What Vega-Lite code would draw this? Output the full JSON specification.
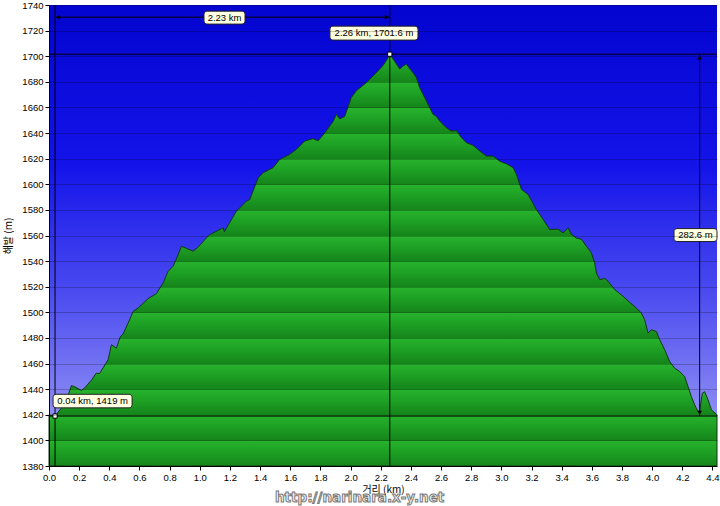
{
  "$schema": "https://vega.github.io/schema/vega-lite/v6.json",
  "width": 668,
  "height": 461,
  "autosize": {"type": "none"},
  "padding": {"left": 49, "top": 5, "right": 3, "bottom": 40},
  "background": "white",
  "config": {
    "view": {"stroke": null},
    "font": "Liberation Sans",
    "axis": {"labelFont": "Liberation Sans", "labelFontSize": 9.5, "labelColor": "black", "domainColor": "black", "tickColor": "black", "tickSize": 4, "labelPadding": 2, "labelOverlap": false}
  },
  "datasets": {
    "bg": [{"x0": 0, "x1": 4.43, "y0": 1380, "y1": 1740}],
    "profile": [
      {"km": 0.0, "m": 1420}, {"km": 0.04, "m": 1419}, {"km": 0.08, "m": 1425}, {"km": 0.12, "m": 1433},
      {"km": 0.149, "m": 1442.8}, {"km": 0.168, "m": 1442}, {"km": 0.215, "m": 1439}, {"km": 0.237, "m": 1441},
      {"km": 0.281, "m": 1447}, {"km": 0.314, "m": 1452.6}, {"km": 0.334, "m": 1452}, {"km": 0.359, "m": 1456.7},
      {"km": 0.392, "m": 1463}, {"km": 0.414, "m": 1474.7}, {"km": 0.447, "m": 1472}, {"km": 0.473, "m": 1481},
      {"km": 0.491, "m": 1483}, {"km": 0.525, "m": 1491.7}, {"km": 0.558, "m": 1500.7}, {"km": 0.591, "m": 1503.4},
      {"km": 0.624, "m": 1507}, {"km": 0.657, "m": 1510.7}, {"km": 0.712, "m": 1514.6}, {"km": 0.757, "m": 1523},
      {"km": 0.79, "m": 1532}, {"km": 0.823, "m": 1536}, {"km": 0.856, "m": 1545}, {"km": 0.878, "m": 1551.6},
      {"km": 0.911, "m": 1550}, {"km": 0.956, "m": 1547.7}, {"km": 0.989, "m": 1551}, {"km": 1.055, "m": 1559.5},
      {"km": 1.066, "m": 1560.7}, {"km": 1.155, "m": 1566}, {"km": 1.163, "m": 1563}, {"km": 1.243, "m": 1579},
      {"km": 1.309, "m": 1586.8}, {"km": 1.331, "m": 1588}, {"km": 1.387, "m": 1605}, {"km": 1.42, "m": 1609},
      {"km": 1.486, "m": 1613}, {"km": 1.53, "m": 1619.4}, {"km": 1.596, "m": 1623.3}, {"km": 1.641, "m": 1627.3},
      {"km": 1.696, "m": 1633.8}, {"km": 1.751, "m": 1635.6}, {"km": 1.785, "m": 1634}, {"km": 1.828, "m": 1640},
      {"km": 1.884, "m": 1649}, {"km": 1.906, "m": 1654.6}, {"km": 1.928, "m": 1651}, {"km": 1.961, "m": 1653},
      {"km": 2.005, "m": 1667.7}, {"km": 2.038, "m": 1673}, {"km": 2.105, "m": 1679.4}, {"km": 2.149, "m": 1684.6},
      {"km": 2.193, "m": 1689.9}, {"km": 2.216, "m": 1693}, {"km": 2.237, "m": 1696.4}, {"km": 2.26, "m": 1701.6},
      {"km": 2.292, "m": 1696}, {"km": 2.326, "m": 1690}, {"km": 2.348, "m": 1692.4}, {"km": 2.37, "m": 1693.8},
      {"km": 2.414, "m": 1687}, {"km": 2.436, "m": 1683.4}, {"km": 2.458, "m": 1675.5}, {"km": 2.503, "m": 1665},
      {"km": 2.547, "m": 1654.6}, {"km": 2.569, "m": 1653}, {"km": 2.591, "m": 1649.4}, {"km": 2.635, "m": 1644.2},
      {"km": 2.668, "m": 1641.6}, {"km": 2.702, "m": 1642}, {"km": 2.735, "m": 1636.4}, {"km": 2.768, "m": 1632.5},
      {"km": 2.812, "m": 1630.4}, {"km": 2.856, "m": 1626}, {"km": 2.901, "m": 1622}, {"km": 2.945, "m": 1622},
      {"km": 2.989, "m": 1618}, {"km": 3.033, "m": 1616}, {"km": 3.078, "m": 1613}, {"km": 3.1, "m": 1607.7},
      {"km": 3.133, "m": 1596}, {"km": 3.177, "m": 1592}, {"km": 3.232, "m": 1580.3}, {"km": 3.277, "m": 1572.5},
      {"km": 3.32, "m": 1564.7}, {"km": 3.376, "m": 1565}, {"km": 3.409, "m": 1562}, {"km": 3.442, "m": 1566},
      {"km": 3.464, "m": 1561}, {"km": 3.497, "m": 1558}, {"km": 3.531, "m": 1557}, {"km": 3.564, "m": 1551.6},
      {"km": 3.597, "m": 1546.4}, {"km": 3.619, "m": 1538.6}, {"km": 3.63, "m": 1530.8}, {"km": 3.652, "m": 1525.5},
      {"km": 3.685, "m": 1526.5}, {"km": 3.708, "m": 1524.2}, {"km": 3.752, "m": 1517.7}, {"km": 3.807, "m": 1512.5},
      {"km": 3.851, "m": 1507.8}, {"km": 3.895, "m": 1503.4}, {"km": 3.928, "m": 1499.5}, {"km": 3.95, "m": 1494.2},
      {"km": 3.973, "m": 1483.8}, {"km": 3.995, "m": 1486.4}, {"km": 4.028, "m": 1485}, {"km": 4.05, "m": 1478.6},
      {"km": 4.083, "m": 1470.8}, {"km": 4.116, "m": 1461.6}, {"km": 4.149, "m": 1456.4}, {"km": 4.182, "m": 1453.8},
      {"km": 4.215, "m": 1449.9}, {"km": 4.238, "m": 1442}, {"km": 4.26, "m": 1434.2}, {"km": 4.282, "m": 1427.7},
      {"km": 4.304, "m": 1422.5}, {"km": 4.315, "m": 1423}, {"km": 4.333, "m": 1436.9}, {"km": 4.348, "m": 1438},
      {"km": 4.371, "m": 1431.6}, {"km": 4.393, "m": 1423.8}, {"km": 4.43, "m": 1420}
    ],
    "hlines": [{"y": 1419}, {"y": 1701.6}],
    "vlines": [{"x": 0.04}, {"x": 2.26}],
    "arrows": [
      {"x": 0.04, "x2": 2.26, "y": 1730.5, "y2": 1730.5},
      {"x": 4.315, "x2": 4.315, "y": 1419, "y2": 1701.6}
    ],
    "heads": [
      {"x": 0.06, "y": 1730.5, "shape": "triangle-left"},
      {"x": 2.24, "y": 1730.5, "shape": "triangle-right"},
      {"x": 4.315, "y": 1699, "shape": "triangle-up"},
      {"x": 4.315, "y": 1421.6, "shape": "triangle-down"}
    ],
    "points": [{"x": 0.04, "y": 1419}, {"x": 2.26, "y": 1701.6}],
    "labels": [
      {"t": "2.23 km", "x": 1.164, "y": 1730.2, "x0": 1.028, "x1": 1.3, "y0": 1735.2, "y1": 1725.1},
      {"t": "2.26 km, 1701.6 m", "x": 2.155, "y": 1718, "x0": 1.863, "x1": 2.447, "y0": 1723.5, "y1": 1712.6},
      {"t": "0.04 km, 1419 m", "x": 0.289, "y": 1430.7, "x0": 0.027, "x1": 0.551, "y0": 1436, "y1": 1425.4},
      {"t": "282.6 m", "x": 4.287, "y": 1560.4, "x0": 4.145, "x1": 4.43, "y0": 1565.4, "y1": 1555.3}
    ],
    "wm": [{"t": "http://narinara.x-y.net", "x": 2.06, "y": 1380}]
  },
  "layer": [
    {
      "data": {"name": "bg"},
      "mark": {"type": "rect", "fill": {"gradient": "linear", "x1": 0, "y1": 0, "x2": 0, "y2": 1, "stops": [
        {"offset": 0, "color": "#0404d0"}, {"offset": 0.35, "color": "#1414ea"}, {"offset": 0.62, "color": "#4a4af0"}, {"offset": 1, "color": "#a8a8f6"}]}},
      "encoding": {
        "x": {"field": "x0", "type": "quantitative", "scale": {"domain": [0, 4.43], "nice": false, "zero": false},
          "axis": {"values": [0, 0.2, 0.4, 0.6, 0.8, 1.0, 1.2, 1.4, 1.6, 1.8, 2.0, 2.2, 2.4, 2.6, 2.8, 3.0, 3.2, 3.4, 3.6, 3.8, 4.0, 4.2, 4.4], "tickCount": 40, "format": ".1f", "grid": false, "labelOverlap": false, "labelFlush": false,
            "title": "거리 (km)", "titleFont": "Noto Sans CJK KR", "titleFontSize": 10, "titleFontWeight": "normal", "titlePadding": 3, "zindex": 1}},
        "x2": {"field": "x1"},
        "y": {"field": "y0", "type": "quantitative", "scale": {"domain": [1380, 1740], "nice": false, "zero": false},
          "axis": {"values": [1380, 1400, 1420, 1440, 1460, 1480, 1500, 1520, 1540, 1560, 1580, 1600, 1620, 1640, 1660, 1680, 1700, 1720, 1740], "tickCount": 40, "format": "d", "labelOverlap": false, "labelFlush": false,
            "grid": true, "gridColor": "#000000", "gridOpacity": 0.22, "gridWidth": 1,
            "title": "해발 (m)", "titleFont": "Noto Sans CJK KR", "titleFontSize": 10, "titleFontWeight": "normal", "titlePadding": 8, "zindex": 1}},
        "y2": {"field": "y1"}
      }
    },
    {
      "data": {"name": "profile"},
      "mark": {"type": "area", "stroke": "#123812", "strokeWidth": 1, "interpolate": "linear",
        "fill": {"gradient": "linear", "x1": 0, "y1": 0, "x2": 0, "y2": 1, "stops": [
          {"offset": 0, "color": "#1d9f24"},
          {"offset": 0.005, "color": "#15851b"}, {"offset": 0.007, "color": "#27b22c"}, {"offset": 0.035, "color": "#1d9f24"},
          {"offset": 0.0672, "color": "#15851b"}, {"offset": 0.0692, "color": "#27b22c"}, {"offset": 0.0972, "color": "#1d9f24"},
          {"offset": 0.1294, "color": "#15851b"}, {"offset": 0.1314, "color": "#27b22c"}, {"offset": 0.1594, "color": "#1d9f24"},
          {"offset": 0.1915, "color": "#15851b"}, {"offset": 0.1935, "color": "#27b22c"}, {"offset": 0.2215, "color": "#1d9f24"},
          {"offset": 0.2537, "color": "#15851b"}, {"offset": 0.2557, "color": "#27b22c"}, {"offset": 0.2837, "color": "#1d9f24"},
          {"offset": 0.3159, "color": "#15851b"}, {"offset": 0.3179, "color": "#27b22c"}, {"offset": 0.3459, "color": "#1d9f24"},
          {"offset": 0.3781, "color": "#15851b"}, {"offset": 0.3801, "color": "#27b22c"}, {"offset": 0.4081, "color": "#1d9f24"},
          {"offset": 0.4403, "color": "#15851b"}, {"offset": 0.4423, "color": "#27b22c"}, {"offset": 0.4703, "color": "#1d9f24"},
          {"offset": 0.5025, "color": "#15851b"}, {"offset": 0.5045, "color": "#27b22c"}, {"offset": 0.5325, "color": "#1d9f24"},
          {"offset": 0.5647, "color": "#15851b"}, {"offset": 0.5667, "color": "#27b22c"}, {"offset": 0.5947, "color": "#1d9f24"},
          {"offset": 0.6269, "color": "#15851b"}, {"offset": 0.6289, "color": "#27b22c"}, {"offset": 0.6569, "color": "#1d9f24"},
          {"offset": 0.6891, "color": "#15851b"}, {"offset": 0.6911, "color": "#27b22c"}, {"offset": 0.7191, "color": "#1d9f24"},
          {"offset": 0.7512, "color": "#15851b"}, {"offset": 0.7532, "color": "#27b22c"}, {"offset": 0.7812, "color": "#1d9f24"},
          {"offset": 0.8134, "color": "#15851b"}, {"offset": 0.8154, "color": "#27b22c"}, {"offset": 0.8434, "color": "#1d9f24"},
          {"offset": 0.8756, "color": "#15851b"}, {"offset": 0.8776, "color": "#27b22c"}, {"offset": 0.9056, "color": "#1d9f24"},
          {"offset": 0.9378, "color": "#15851b"}, {"offset": 0.9398, "color": "#27b22c"}, {"offset": 0.9678, "color": "#1d9f24"},
          {"offset": 1, "color": "#15851b"}]}},
      "encoding": {
        "x": {"field": "km", "type": "quantitative"},
        "y": {"field": "m", "type": "quantitative", "scale": {"zero": false}},
        "y2": {"datum": 1380}
      }
    },
    {
      "data": {"name": "hlines"},
      "mark": {"type": "rule", "color": "black", "strokeWidth": 1},
      "encoding": {"y": {"field": "y", "type": "quantitative"}}
    },
    {
      "data": {"name": "vlines"},
      "mark": {"type": "rule", "color": "black", "strokeWidth": 1},
      "encoding": {"x": {"field": "x", "type": "quantitative"}}
    },
    {
      "data": {"name": "arrows"},
      "mark": {"type": "rule", "color": "black", "strokeWidth": 1},
      "encoding": {
        "x": {"field": "x", "type": "quantitative"}, "x2": {"field": "x2"},
        "y": {"field": "y", "type": "quantitative"}, "y2": {"field": "y2"}
      }
    },
    {
      "data": {"name": "heads"},
      "mark": {"type": "point", "filled": true, "color": "black", "size": 22, "opacity": 1},
      "encoding": {
        "x": {"field": "x", "type": "quantitative"},
        "y": {"field": "y", "type": "quantitative"},
        "shape": {"field": "shape", "type": "nominal", "scale": null}
      }
    },
    {
      "data": {"name": "points"},
      "mark": {"type": "square", "filled": true, "fill": "white", "stroke": "black", "strokeWidth": 1, "size": 18, "opacity": 1},
      "encoding": {
        "x": {"field": "x", "type": "quantitative"},
        "y": {"field": "y", "type": "quantitative"}
      }
    },
    {
      "data": {"name": "labels"},
      "mark": {"type": "rect", "fill": "#ffffe1", "stroke": "#222222", "strokeWidth": 1, "cornerRadius": 3},
      "encoding": {
        "x": {"field": "x0", "type": "quantitative"}, "x2": {"field": "x1"},
        "y": {"field": "y0", "type": "quantitative"}, "y2": {"field": "y1"}
      }
    },
    {
      "data": {"name": "labels"},
      "mark": {"type": "text", "font": "Liberation Sans", "fontSize": 9.5, "color": "black", "align": "center", "baseline": "middle"},
      "encoding": {
        "x": {"field": "x", "type": "quantitative"},
        "y": {"field": "y", "type": "quantitative"},
        "text": {"field": "t"}
      }
    },
    {
      "data": {"name": "wm"},
      "mark": {"type": "text", "font": "DejaVu Sans", "fontSize": 13.5, "fontWeight": "bold", "fill": "#f4f4f4", "stroke": "#7a7a7a", "strokeWidth": 1, "align": "center", "baseline": "middle", "dy": 32, "clip": false},
      "encoding": {
        "x": {"field": "x", "type": "quantitative"},
        "y": {"field": "y", "type": "quantitative"},
        "text": {"field": "t"}
      }
    }
  ]
}
